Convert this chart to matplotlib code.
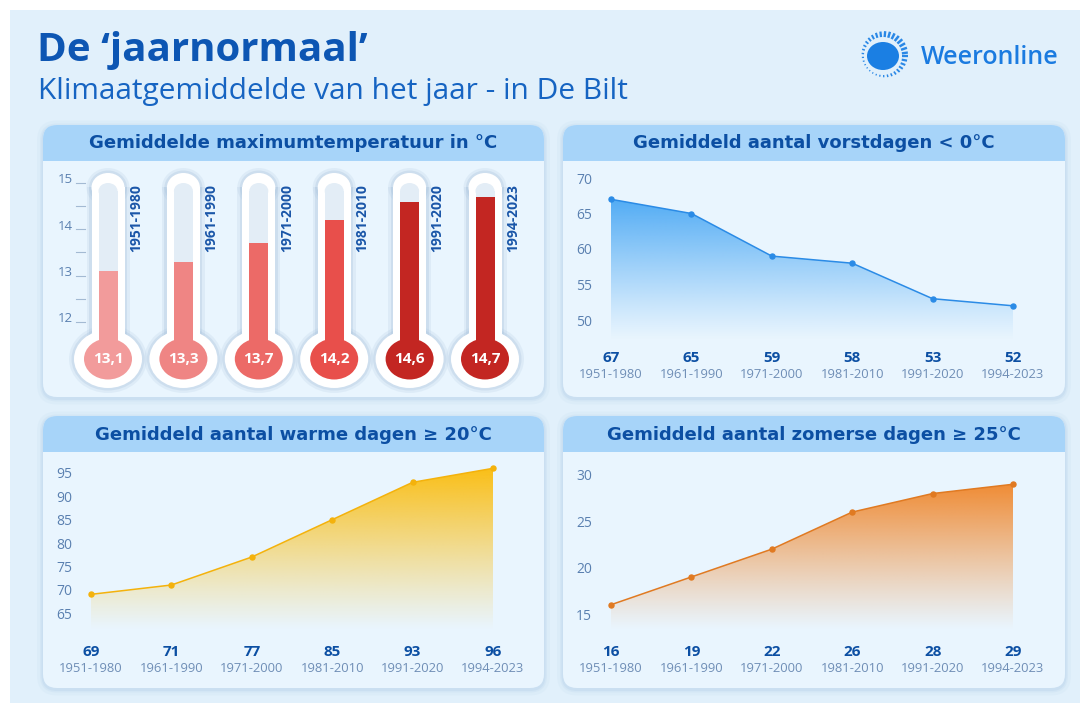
import numpy as np
import matplotlib
matplotlib.use("Agg")
import matplotlib.pyplot as plt
from matplotlib.patches import FancyBboxPatch, Rectangle, Ellipse
from matplotlib.colors import to_rgb

plt.rcParams['font.family'] = ['Open Sans', 'DejaVu Sans']

W, H = 1084, 703
STRETCH = 1.18  # the source picture is a bit wider than it is tall

periods = ['1951-1980', '1961-1990', '1971-2000', '1981-2010', '1991-2020', '1994-2023']
max_temp = [13.1, 13.3, 13.7, 14.2, 14.6, 14.7]
frost_days = [67, 65, 59, 58, 53, 52]
warm_days = [69, 71, 77, 85, 93, 96]
summer_days = [16, 19, 22, 26, 28, 29]

temp_ticks = [12, 13, 14, 15]
frost_ticks = [50, 55, 60, 65, 70]
warm_ticks = [65, 70, 75, 80, 85, 90, 95]
summer_ticks = [15, 20, 25, 30]

thermo_colors = ['#f29b9b', '#ef8584', '#ec6a67', '#e84f4b', '#c32622', '#c32622']

DARK = '#0c4fa3'
TICK = '#5a80b0'
YEAR = '#6f8eb6'

fig = plt.figure(figsize=(W / 100, H / 100), dpi=100, facecolor='white')
bg = fig.add_axes([0, 0, 1, 1])
bg.set_xlim(0, W)
bg.set_ylim(H, 0)
bg.axis('off')
bg.add_patch(Rectangle((10, 10), W - 14, H - 10, fc='#e1f0fb', ec='none'))


def px_axes(xlim, ylim, x0px, sx, yref, yrefpx, sy):
    left = x0px + xlim[0] * sx
    right = x0px + xlim[1] * sx
    top = yrefpx - (ylim[1] - yref) * sy
    bottom = yrefpx + (yref - ylim[0]) * sy
    ax = fig.add_axes([left / W, 1 - bottom / H, (right - left) / W, (bottom - top) / H])
    ax.set_facecolor('none')
    for s in ax.spines.values():
        s.set_visible(False)
    ax.set_xticks([])
    return ax


def panel(x0, y0, x1, y1, title):
    for grow, a in [(6, 0.05), (3, 0.08), (1.5, 0.1)]:
        bg.add_patch(FancyBboxPatch((x0 - grow, y0 - grow + 1.5), x1 - x0 + 2 * grow,
                                    y1 - y0 + 2 * grow,
                                    boxstyle=f'round,pad=0,rounding_size={14 + grow}',
                                    fc='#7ea8d2', ec='none', alpha=a))
    box = FancyBboxPatch((x0, y0), x1 - x0, y1 - y0, boxstyle='round,pad=0,rounding_size=14',
                         fc='#e9f5fe', ec='none')
    bg.add_patch(box)
    head = Rectangle((x0, y0), x1 - x0, 36, fc='#a7d4f9', ec='none')
    bg.add_patch(head)
    head.set_clip_path(box)
    bg.text((x0 + x1) / 2, y0 + 18.5, title, ha='center', va='center', color=DARK,
            fontsize=13, fontweight='bold', family=['DejaVu Sans'])


# header
bg.text(37, 50, 'De \u2018jaarnormaal\u2019', fontsize=29, fontweight='bold', color='#0d56b3',
        ha='left', va='center')
bg.text(38, 91, 'Klimaatgemiddelde van het jaar - in De Bilt', fontsize=21.5, color='#1664c2',
        ha='left', va='center')

# logo
sun_x, sun_y = 883, 56
bg.add_patch(Ellipse((sun_x, sun_y), 32, 28, fc='#1b7fe3', ec='none'))
for ang in np.arange(0, 360, 11):
    t = np.deg2rad(ang)
    k = (1 + np.cos(t + np.deg2rad(45))) / 2
    r0, r1 = 19, 20.5 + 5 * k
    bg.plot([sun_x + r0 * np.cos(t) * STRETCH * 0.85, sun_x + r1 * np.cos(t) * STRETCH * 0.85],
            [sun_y + r0 * np.sin(t), sun_y + r1 * np.sin(t)],
            color='#2a88e6', lw=0.8 + 1.0 * k, solid_capstyle='butt')
bg.text(921, 58, 'Weeronline', fontsize=18, color='#1b7be0', fontweight='semibold',
        ha='left', va='center')

panel(43, 125, 544, 397, 'Gemiddelde maximumtemperatuur in °C')
panel(563, 125, 1065, 397, 'Gemiddeld aantal vorstdagen < 0°C')
panel(43, 416, 544, 688, 'Gemiddeld aantal warme dagen \u2265 20°C')
panel(563, 416, 1065, 688, 'Gemiddeld aantal zomerse dagen \u2265 25°C')

# thermometers
sx, sy = 75.4, 46.33
tx = px_axes((-0.85, 5.7), (10.35, 15.6), 108, sx, 15, 183, sy)
tx.set_xlim(-0.85, 5.7)
tx.set_ylim(10.35, 15.6)
tx.set_yticks([])
bulb_y = 12 - (359 - 322) / sy
for v in np.arange(12, 15.01, 0.5):
    tx.plot([(76 - 108) / sx, (85 - 108) / sx], [v, v], color='#a3bad3', lw=0.8)
for v in temp_ticks:
    tx.text((73 - 108) / sx, v + 0.07, str(v), ha='right', va='center', color=TICK, fontsize=9.5)

for i, (v, c, p) in enumerate(zip(max_temp, thermo_colors, periods)):
    top_o = 15 - 4.5 / sy
    top_i = 15 - 8 / sy
    # soft shadow
    for g, a in [(5, 0.18), (2.5, 0.3)]:
        tx.add_patch(Ellipse((i, bulb_y), (68 + 2 * g) / sx, (58 + 2 * g) / sy, fc='#a9c3dc',
                             ec='none', alpha=a))
        tx.add_patch(Rectangle((i - (16.5 + g) / sx, bulb_y), (33 + 2 * g) / sx, top_o - bulb_y,
                               fc='#a9c3dc', ec='none', alpha=a))
        tx.add_patch(Ellipse((i, top_o), (33 + 2 * g) / sx, (29 + 2 * g) / sy, fc='#a9c3dc',
                             ec='none', alpha=a))
    # white glass
    tx.add_patch(Rectangle((i - 16.5 / sx, bulb_y), 33 / sx, top_o - bulb_y, fc='white', ec='none'))
    tx.add_patch(Ellipse((i, top_o), 33 / sx, 29 / sy, fc='white', ec='none'))
    tx.add_patch(Ellipse((i, bulb_y), 68 / sx, 58 / sy, fc='white', ec='none'))
    # empty tube
    tx.add_patch(Rectangle((i - 9.5 / sx, bulb_y), 19 / sx, top_i - bulb_y, fc='#e3edf6', ec='none'))
    tx.add_patch(Ellipse((i, top_i), 19 / sx, 16 / sy, fc='#e3edf6', ec='none'))
    # mercury
    tx.bar(i, v - bulb_y, bottom=bulb_y, width=19 / sx, color=c, zorder=3)
    tx.add_patch(Ellipse((i, bulb_y), 48 / sx, 41 / sy, fc=c, ec='none', zorder=3))
    tx.text(i, bulb_y, f'{v:.1f}'.replace('.', ','), ha='center', va='center', color='white',
            fontsize=11, fontweight='bold', zorder=4)
    tx.text(i + 28 / sx, 14.97, p, rotation=90, ha='center', va='top', color='#1a56a8',
            fontsize=10, fontweight='bold')


def line_chart(values, ticks, color, line_color, x0px, yref, yrefpx, sy, top_px, bottom_px, base):
    sx = 80.4
    ylim = (yref - (bottom_px - yrefpx) / sy, yref + (yrefpx - top_px) / sy)
    xlim = (-0.2, 5.2)
    ax = px_axes(xlim, ylim, x0px, sx, yref, yrefpx, sy)
    x = np.arange(len(values))
    poly = ax.fill_between(x, values, base, facecolor='none', edgecolor='none')
    grad = np.zeros((256, 1, 4))
    grad[:, 0, :3] = to_rgb(color)
    grad[:, 0, 3] = np.linspace(0.0, 1.0, 256) ** 1.1 * 0.95
    im = ax.imshow(grad, extent=(x[0], x[-1], base, max(values)), origin='lower',
                   aspect='auto', zorder=1, interpolation='bilinear')
    im.set_clip_path(poly.get_paths()[0], transform=ax.transData)
    ax.plot(x, values, color=line_color, lw=1.1, marker='o', ms=3.6, zorder=3)
    ax.set_xlim(*xlim)
    ax.set_ylim(*ylim)
    ax.set_yticks(ticks)
    ax.tick_params(axis='y', length=0, pad=2, labelcolor=TICK, labelsize=10)
    for i, (v, p) in enumerate(zip(values, periods)):
        ax.annotate(str(v), xy=(i, 0), xycoords=('data', 'axes fraction'), xytext=(0, -14),
                    textcoords='offset pixels', ha='center', va='center', color=DARK,
                    fontsize=11, fontweight='bold')
        ax.annotate(p, xy=(i, 0), xycoords=('data', 'axes fraction'), xytext=(0, -30),
                    textcoords='offset pixels', ha='center', va='center', color=YEAR,
                    fontsize=9.4)
    return ax


line_chart(frost_days, frost_ticks, '#4aa8f4', '#2b8be6', 611, 70, 178, 7.1, 165, 344, 47.2)
line_chart(warm_days, warm_ticks, '#fbbc0a', '#f4b20c', 91, 95, 473, 4.667, 458, 638, 61.4)
line_chart(summer_days, summer_ticks, '#f0862a', '#e07a22', 611, 30, 475, 9.267, 460, 638, 13.3)

fig.savefig('out.png', dpi=100)
